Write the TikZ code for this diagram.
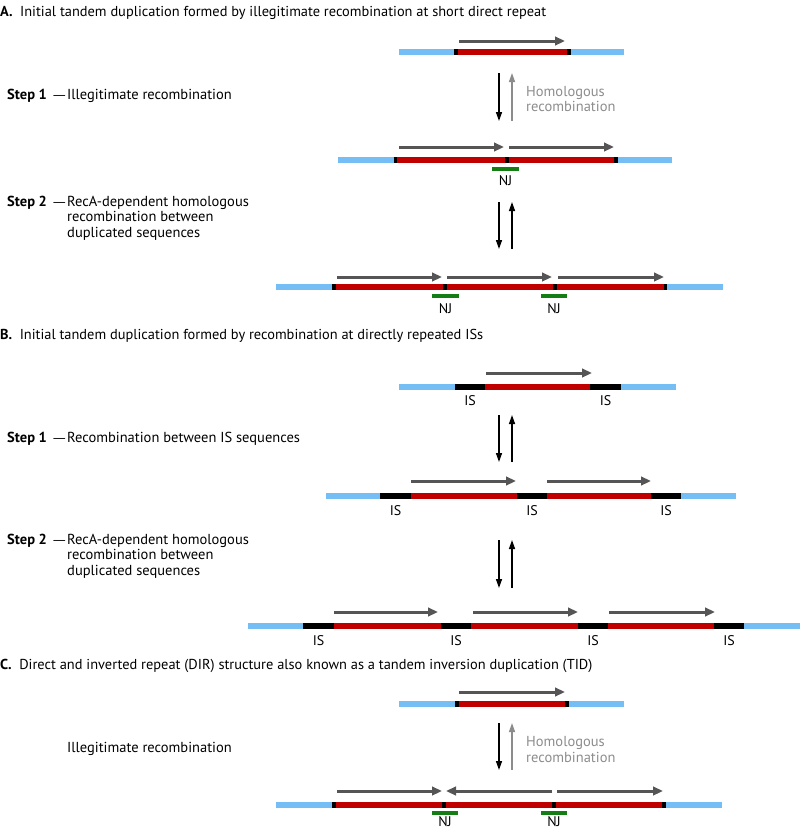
\documentclass[tikz,border=0pt]{standalone}
\usepackage{fontspec}
\setmainfont{PT Sans}
\newfontfamily\dashfont{DejaVu Sans}
\usepackage{tikz}
\usetikzlibrary{arrows.meta,positioning}

\definecolor{dnaBlue}{RGB}{117,190,245}
\definecolor{dnaRed}{RGB}{192,0,0}
\definecolor{dirGray}{RGB}{85,85,85}
\definecolor{njGreen}{RGB}{20,125,20}
\definecolor{hrGray}{RGB}{140,140,140}

\begin{document}
\begin{tikzpicture}[
  x=1pt, y=-1pt,
  flank/.style={line width=6pt, draw=dnaBlue},
  dup/.style={line width=6pt, draw=dnaRed},
  jn/.style={line width=6pt, draw=black},
  dirarr/.style={-{Triangle[length=10pt,width=8.5pt]},
    line width=3pt, draw=dirGray, fill=dirGray},
  rxn/.style={-{Triangle[length=9pt,width=6pt]},
    line width=1.4pt, draw=black, fill=black},
  hrarr/.style={rxn, draw=hrGray, fill=hrGray},
  njbar/.style={line width=4pt, draw=njGreen},
  hdr/.style={anchor=base west, inner sep=0pt,
    font=\fontsize{14.4}{15}\selectfont},
  txt/.style={anchor=base west, inner sep=0pt,
    font=\fontsize{14.5}{15.5}\selectfont},
  emdash/.style={anchor=base east, inner sep=0pt,
    font=\dashfont\fontsize{13}{15}\selectfont},
  desc/.style={txt, align=left},
  hrtxt/.style={desc, text=hrGray},
  seglbl/.style={anchor=base, inner sep=0pt,
    font=\fontsize{14}{15}\selectfont},
]
  \useasboundingbox (0,0) rectangle (800,830);

  %% ── A: short direct repeat ──────────────────────────────────
  \node[hdr] (titleA) at (0,16.8)
    {\textbf{A.}\hspace{7.5pt}Initial tandem duplication formed by illegitimate recombination at short direct repeat};

  % row A1
  \draw[flank] (399,52) -- (624,52);
  \draw[dup] (458,52) -- (567,52);
  \foreach \x in {454,567} \draw[jn] (\x,52) -- ++(4,0);
  \draw[dirarr] (459,41) -- (565,41);

  \node[txt] (stepA1) at (7,99.5) {\textbf{Step 1}};
  \node[emdash] (dashA1) at (66,99.5) {—};
  \node[txt] (descA1) at (67,99.5) {Illegitimate recombination};
  \node[hrtxt] (hrA) at (526,111.5) {Homologous\\recombination};

  % row A2
  \draw[flank] (338,160) -- (672,160);
  \draw[dup] (397,160) -- (614,160);
  \foreach \x in {393.5,505,614} \draw[jn] (\x,160) -- ++(3.5,0);
  \foreach \a/\b in {399/504, 509/614} \draw[dirarr] (\a,147) -- (\b,147);
  \draw[njbar] (492,169) -- (519,169);
  \node[seglbl] (njA2) at (505.5,185) {NJ};

  \node[txt] (stepA2) at (7,206) {\textbf{Step 2}};
  \node[emdash] (dashA2) at (66,206) {—};
  \node[desc] (descA2) at (67,237)
    {RecA-dependent homologous\\recombination between\\duplicated sequences};

  % row A3
  \draw[flank] (276,287) -- (723,287);
  \draw[dup] (335,287) -- (664,287);
  \foreach \x in {332,443,553,663.5} \draw[jn] (\x,287) -- ++(3.5,0);
  \foreach \a/\b in {337/442, 447/552, 558/664} \draw[dirarr] (\a,277) -- (\b,277);
  \foreach \a/\b/\n in {432/459/1, 541/567/2} {
    \draw[njbar] (\a,296) -- (\b,296);
    \node[seglbl] (njA3-\n) at ({(\a+\b)/2},313) {NJ};
  }

  %% ── B: directly repeated ISs ────────────────────────────────
  \node[hdr] (titleB) at (0,339)
    {\textbf{B.}\hspace{7.5pt}Initial tandem duplication formed by recombination at directly repeated ISs};

  % row B1
  \draw[flank] (399,387) -- (676,387);
  \draw[dup] (455,387) -- (621,387);
  \foreach \a/\b/\n in {455/485/1, 590/621/2} {
    \draw[jn] (\a,387) -- (\b,387);
    \node[seglbl] (isB1-\n) at ({(\a+\b)/2},405) {IS};
  }
  \draw[dirarr] (486,373) -- (592,373);

  \node[txt] (stepB1) at (7,442) {\textbf{Step 1}};
  \node[emdash] (dashB1) at (66,442) {—};
  \node[txt] (descB1) at (67,442) {Recombination between IS sequences};

  % row B2
  \draw[flank] (326,496) -- (736,496);
  \draw[dup] (380,496) -- (681,496);
  \foreach \a/\b/\n in {380/411/1, 517/547/2, 651/681/3} {
    \draw[jn] (\a,496) -- (\b,496);
    \node[seglbl] (isB2-\n) at ({(\a+\b)/2},515) {IS};
  }
  \foreach \a/\b in {411/516, 547/651} \draw[dirarr] (\a,481) -- (\b,481);

  \node[txt] (stepB2) at (7,544) {\textbf{Step 2}};
  \node[emdash] (dashB2) at (66,544) {—};
  \node[desc] (descB2) at (67,575)
    {RecA-dependent homologous\\recombination between\\duplicated sequences};

  % row B3
  \draw[flank] (248,626) -- (800,626);
  \draw[dup] (303,626) -- (744,626);
  \foreach \a/\b/\n in {303/334/1, 441/471/2, 578/608/3, 714/744/4} {
    \draw[jn] (\a,626) -- (\b,626);
    \node[seglbl] (isB3-\n) at ({(\a+\b)/2},645) {IS};
  }
  \foreach \a/\b in {334/438, 473/578, 609/715} \draw[dirarr] (\a,612) -- (\b,612);

  %% ── C: direct and inverted repeat ───────────────────────────
  \node[hdr] (titleC) at (0,669.5)
    {\textbf{C.}\hspace{7.5pt}Direct and inverted repeat (DIR) structure also known as a tandem inversion duplication (TID)};

  % row C1
  \draw[flank] (399,704) -- (624,704);
  \draw[dup] (459,704) -- (565,704);
  \foreach \x in {455,565} \draw[jn] (\x,704) -- ++(4,0);
  \draw[dirarr] (459,692) -- (565,692);

  \node[txt] (descC) at (67,752) {Illegitimate recombination};
  \node[hrtxt] (hrC) at (526,762) {Homologous\\recombination};

  % row C2
  \draw[flank] (276,805) -- (722,805);
  \draw[dup] (336,805) -- (662,805);
  \foreach \x in {332,442,552,662} \draw[jn] (\x,805) -- ++(4,0);
  \draw[dirarr] (337,791) -- (442,791);
  \draw[dirarr] (552,791) -- (446,791);
  \draw[dirarr] (557,791) -- (663,791);
  \foreach \a/\b/\n in {432/458/1, 541/567/2} {
    \draw[njbar] (\a,813) -- (\b,813);
    \node[seglbl] (njC-\n) at ({(\a+\b)/2},826.5) {NJ};
  }

  %% ── Reaction arrows ─────────────────────────────────────────
  \foreach \n/\t/\b in {A1/73/121, A2/202/249, B1/415/462, B2/540/588, C/723/770} {
    \coordinate (\n-top) at (499,\t);
    \coordinate (\n-bot) at (499,\b);
    \coordinate (\n-rtop) at (512,\t);
    \coordinate (\n-rbot) at (512,\b);
    \draw[rxn] (\n-top) -- (\n-bot);
  }
  \foreach \n in {A2, B1, B2} \draw[rxn] (\n-rbot) -- (\n-rtop);
  \foreach \n in {A1, C} \draw[hrarr] (\n-rbot) -- (\n-rtop);

\end{tikzpicture}
\end{document}
